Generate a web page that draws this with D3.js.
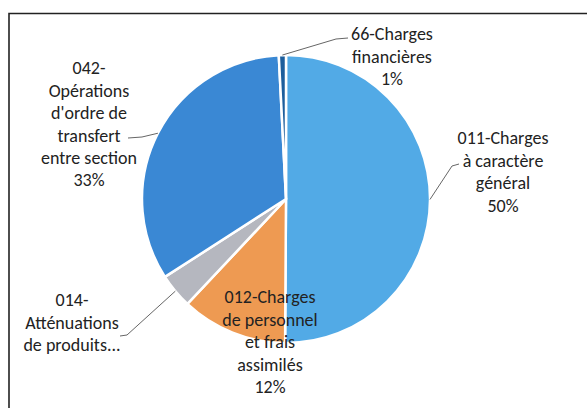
<!DOCTYPE html>
<html>
<head>
<meta charset="utf-8">
<script src="https://cdn.jsdelivr.net/npm/d3@7"></script>
<style>
  body { margin: 0; background: #fff; }
  svg { display: block; }
</style>
</head>
<body>
<svg id="chart" width="587" height="408"></svg>
<script>
// chart data
const categories = ["011-Charges à caractère général", "012-Charges de personnel et frais assimilés",
                    "014-Atténuations de produits", "042-Opérations d'ordre de transfert entre section",
                    "66-Charges financières"]
const labelLines = [
    ["011-Charges", "à caractère", "général"],
    ["012-Charges", "de personnel", "et frais", "assimilés"],
    ["014-", "Atténuations", "de produits..."],
    ["042-", "Opérations", "d'ordre de", "transfert", "entre section"],
    ["66-Charges", "financières"]
]
const values = [50.1, 11.9, 3.9, 33.3, 0.8]
const showPct = [true, true, false, true, true]
const colours = ["#52aae6", "#ee9a52", "#b5b7bf", "#3a88d4", "#1d5e9c"]

// layout
const cx = 286, cy = 199, radius = 144
const lineH = 22.4
// label centre x and y of first line
const labelPos = [[503, 138], [270, 297], [72, 300], [89, 68], [392, 34]]
// leader line: elbow and end point (start is on the slice edge)
const leaders = [
    [[452, 166], [459, 164]],
    null,
    [[127, 335], [120, 336]],
    [[142, 137], [128, 138]],
    [[336, 39], [348, 38]]
]

const svg = d3.select("#chart")

// frame (only top and left edges are in the scan)
svg.append("path")
    .attr("d", "M9,408 L9,13.5 L587,13.5")
    .attr("fill", "none")
    .attr("stroke", "#222")
    .attr("stroke-width", 1.6)

const pie = d3.pie().sort(null).value(d => d)
const arcs = pie(values)
const arc = d3.arc().innerRadius(0).outerRadius(radius)

const g = svg.append("g").attr("transform", "translate(" + cx + "," + cy + ")")

g.selectAll("path.slice")
    .data(arcs)
    .enter()
    .append("path")
    .attr("class", "slice")
    .attr("d", arc)
    .attr("fill", (d, i) => colours[i])
    .attr("stroke", "#fff")
    .attr("stroke-width", 2.5)
    .attr("stroke-linejoin", "round")

// leader lines
arcs.forEach((d, i) => {
    if (!leaders[i]) return
    const mid = (d.startAngle + d.endAngle) / 2
    const x0 = cx + radius * Math.sin(mid)
    const y0 = cy - radius * Math.cos(mid)
    const pts = [[x0, y0]].concat(leaders[i])
    svg.append("path")
        .attr("d", d3.line()(pts))
        .attr("fill", "none")
        .attr("stroke", "#666")
        .attr("stroke-width", 1)
})

// labels
arcs.forEach((d, i) => {
    const lines = labelLines[i].slice()
    if (showPct[i]) lines.push(d3.format(".0f")(d.data) + "%")
    const t = svg.append("text")
        .attr("text-anchor", "middle")
        .attr("font-family", "Carlito, Lato, 'Noto Sans', sans-serif")
        .attr("font-size", 18)
        .attr("fill", "#222")
    lines.forEach((ln, k) => {
        t.append("tspan")
            .attr("x", labelPos[i][0])
            .attr("y", labelPos[i][1] + k * lineH)
            .attr("dy", "0.35em")
            .text(ln)
    })
})
</script>
</body>
</html>
